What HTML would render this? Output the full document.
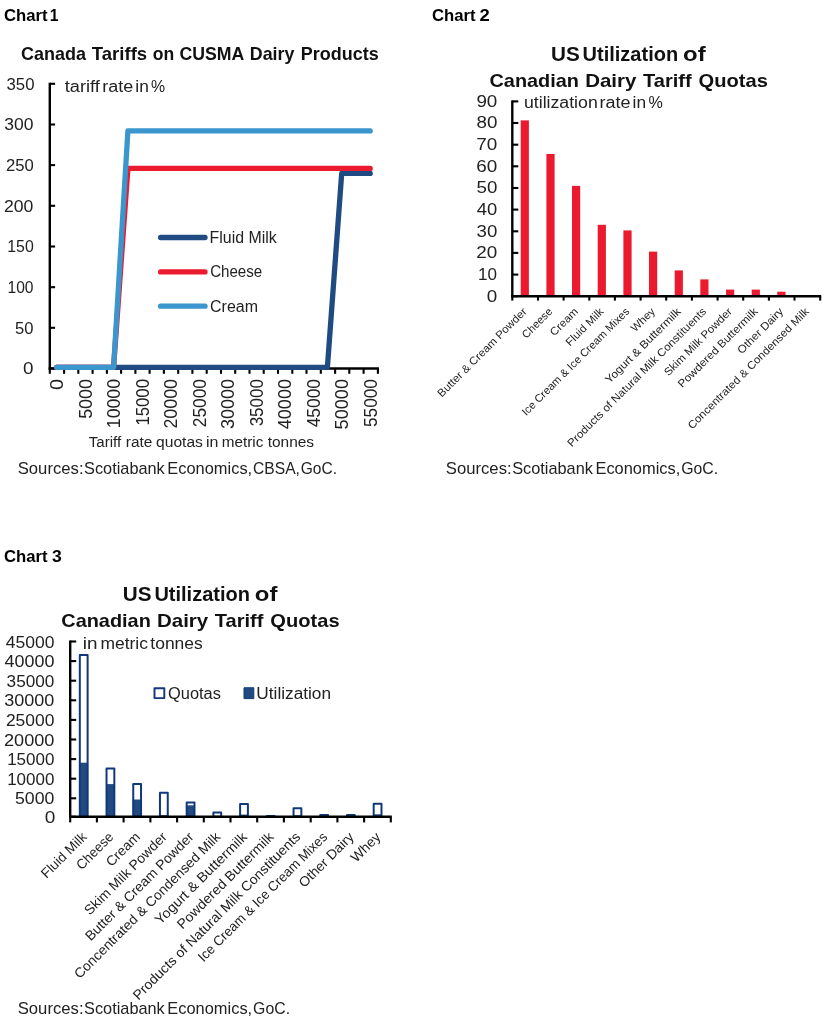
<!DOCTYPE html>
<html lang="en">
<head>
<meta charset="utf-8">
<title>Charts</title>
<style>
html,body{margin:0;padding:0;background:#fff;}
body{width:828px;height:1023px;overflow:hidden;font-family:"Liberation Sans",sans-serif;}
svg{display:block;font-family:"Liberation Sans",sans-serif;}
</style>
</head>
<body>
<svg width="828" height="1023" viewBox="0 0 828 1023">
<rect x="0" y="0" width="828" height="1023" fill="#fff"/>
<text y="20.90" font-size="17.2" font-weight="bold" fill="#000"><tspan x="3.91" textLength="43.59" lengthAdjust="spacingAndGlyphs">Chart</tspan> <tspan x="49.71" textLength="8.73" lengthAdjust="spacingAndGlyphs">1</tspan></text>
<text y="60.30" font-size="17.8" font-weight="bold" fill="#111"><tspan x="20.96" textLength="64.92" lengthAdjust="spacingAndGlyphs">Canada</tspan> <tspan x="91.89" textLength="55.27" lengthAdjust="spacingAndGlyphs">Tariffs</tspan> <tspan x="152.81" textLength="21.48" lengthAdjust="spacingAndGlyphs">on</tspan> <tspan x="179.38" textLength="64.18" lengthAdjust="spacingAndGlyphs">CUSMA</tspan> <tspan x="249.81" textLength="44.59" lengthAdjust="spacingAndGlyphs">Dairy</tspan> <tspan x="300.80" textLength="77.94" lengthAdjust="spacingAndGlyphs">Products</tspan></text>
<text x="33.44" y="374.2" font-size="16" text-anchor="end" textLength="10.47" lengthAdjust="spacingAndGlyphs" fill="#222">0</text>
<line x1="49.8" y1="368.5" x2="55.099999999999994" y2="368.5" stroke="#000" stroke-width="2.1"/>
<text x="33.55" y="333.5" font-size="16" text-anchor="end" textLength="18.41" lengthAdjust="spacingAndGlyphs" fill="#222">50</text>
<line x1="49.8" y1="327.8" x2="55.099999999999994" y2="327.8" stroke="#000" stroke-width="2.1"/>
<text x="33.51" y="292.9" font-size="16" text-anchor="end" textLength="26.00" lengthAdjust="spacingAndGlyphs" fill="#222">100</text>
<line x1="49.8" y1="287.2" x2="55.099999999999994" y2="287.2" stroke="#000" stroke-width="2.1"/>
<text x="33.72" y="252.2" font-size="16" text-anchor="end" textLength="26.43" lengthAdjust="spacingAndGlyphs" fill="#222">150</text>
<line x1="49.8" y1="246.5" x2="55.099999999999994" y2="246.5" stroke="#000" stroke-width="2.1"/>
<text x="33.39" y="211.5" font-size="16" text-anchor="end" textLength="29.37" lengthAdjust="spacingAndGlyphs" fill="#222">200</text>
<line x1="49.8" y1="205.8" x2="55.099999999999994" y2="205.8" stroke="#000" stroke-width="2.1"/>
<text x="33.75" y="170.8" font-size="16" text-anchor="end" textLength="27.79" lengthAdjust="spacingAndGlyphs" fill="#222">250</text>
<line x1="49.8" y1="165.1" x2="55.099999999999994" y2="165.1" stroke="#000" stroke-width="2.1"/>
<text x="33.38" y="130.2" font-size="16" text-anchor="end" textLength="29.15" lengthAdjust="spacingAndGlyphs" fill="#222">300</text>
<line x1="49.8" y1="124.5" x2="55.099999999999994" y2="124.5" stroke="#000" stroke-width="2.1"/>
<text x="34.45" y="89.5" font-size="16" text-anchor="end" textLength="27.89" lengthAdjust="spacingAndGlyphs" fill="#222">350</text>
<line x1="49.8" y1="83.8" x2="55.099999999999994" y2="83.8" stroke="#000" stroke-width="2.1"/>
<text y="91.50" font-size="16" fill="#222"><tspan x="64.82" textLength="35.05" lengthAdjust="spacingAndGlyphs">tariff</tspan> <tspan x="102.31" textLength="30.99" lengthAdjust="spacingAndGlyphs">rate</tspan> <tspan x="135.34" textLength="13.48" lengthAdjust="spacingAndGlyphs">in</tspan> <tspan x="151.03" textLength="14.13" lengthAdjust="spacingAndGlyphs">%</tspan></text>
<line x1="49.8" y1="82.8" x2="49.8" y2="369.5" stroke="#000" stroke-width="2.4"/>
<line x1="48.599999999999994" y1="368.5" x2="378.90000000000003" y2="368.5" stroke="#000" stroke-width="2.4"/>
<line x1="49.8" y1="368.5" x2="49.8" y2="373.8" stroke="#000" stroke-width="2.1"/>
<line x1="64.1" y1="368.5" x2="64.1" y2="373.8" stroke="#000" stroke-width="2.1"/>
<line x1="78.3" y1="368.5" x2="78.3" y2="373.8" stroke="#000" stroke-width="2.1"/>
<line x1="92.6" y1="368.5" x2="92.6" y2="373.8" stroke="#000" stroke-width="2.1"/>
<line x1="106.9" y1="368.5" x2="106.9" y2="373.8" stroke="#000" stroke-width="2.1"/>
<line x1="121.1" y1="368.5" x2="121.1" y2="373.8" stroke="#000" stroke-width="2.1"/>
<line x1="135.4" y1="368.5" x2="135.4" y2="373.8" stroke="#000" stroke-width="2.1"/>
<line x1="149.6" y1="368.5" x2="149.6" y2="373.8" stroke="#000" stroke-width="2.1"/>
<line x1="163.9" y1="368.5" x2="163.9" y2="373.8" stroke="#000" stroke-width="2.1"/>
<line x1="178.2" y1="368.5" x2="178.2" y2="373.8" stroke="#000" stroke-width="2.1"/>
<line x1="192.4" y1="368.5" x2="192.4" y2="373.8" stroke="#000" stroke-width="2.1"/>
<line x1="206.7" y1="368.5" x2="206.7" y2="373.8" stroke="#000" stroke-width="2.1"/>
<line x1="221.0" y1="368.5" x2="221.0" y2="373.8" stroke="#000" stroke-width="2.1"/>
<line x1="235.2" y1="368.5" x2="235.2" y2="373.8" stroke="#000" stroke-width="2.1"/>
<line x1="249.5" y1="368.5" x2="249.5" y2="373.8" stroke="#000" stroke-width="2.1"/>
<line x1="263.7" y1="368.5" x2="263.7" y2="373.8" stroke="#000" stroke-width="2.1"/>
<line x1="278.0" y1="368.5" x2="278.0" y2="373.8" stroke="#000" stroke-width="2.1"/>
<line x1="292.3" y1="368.5" x2="292.3" y2="373.8" stroke="#000" stroke-width="2.1"/>
<line x1="306.5" y1="368.5" x2="306.5" y2="373.8" stroke="#000" stroke-width="2.1"/>
<line x1="320.8" y1="368.5" x2="320.8" y2="373.8" stroke="#000" stroke-width="2.1"/>
<line x1="335.1" y1="368.5" x2="335.1" y2="373.8" stroke="#000" stroke-width="2.1"/>
<line x1="349.3" y1="368.5" x2="349.3" y2="373.8" stroke="#000" stroke-width="2.1"/>
<line x1="363.6" y1="368.5" x2="363.6" y2="373.8" stroke="#000" stroke-width="2.1"/>
<line x1="377.9" y1="368.5" x2="377.9" y2="373.8" stroke="#000" stroke-width="2.1"/>
<polyline points="56.6,367.3 327.4,367.3 341.7,173.4 370.2,173.4" fill="none" stroke="#1F4A82" stroke-width="5.3" stroke-linecap="round" stroke-linejoin="round"/>
<polyline points="56.6,367.3 113.6,367.3 127.9,168.4 370.2,168.4" fill="none" stroke="#EC1A2E" stroke-width="5.3" stroke-linecap="round" stroke-linejoin="round"/>
<polyline points="56.6,367.3 113.6,367.3 127.9,130.9 370.2,130.9" fill="none" stroke="#3B96CE" stroke-width="5.3" stroke-linecap="round" stroke-linejoin="round"/>
<text x="63.3" y="378.91" font-size="17.8" text-anchor="end" textLength="11.17" lengthAdjust="spacingAndGlyphs" transform="rotate(-90 63.3 378.91)" fill="#222">0</text>
<text x="91.8" y="379.0" font-size="17.8" text-anchor="end" textLength="39.82" lengthAdjust="spacingAndGlyphs" transform="rotate(-90 91.8 379.0)" fill="#222">5000</text>
<text x="120.3" y="379.01" font-size="17.8" text-anchor="end" textLength="49.14" lengthAdjust="spacingAndGlyphs" transform="rotate(-90 120.3 379.01)" fill="#222">10000</text>
<text x="148.9" y="379.05" font-size="17.8" text-anchor="end" textLength="46.53" lengthAdjust="spacingAndGlyphs" transform="rotate(-90 148.9 379.05)" fill="#222">15000</text>
<text x="177.4" y="379.0" font-size="17.8" text-anchor="end" textLength="49.60" lengthAdjust="spacingAndGlyphs" transform="rotate(-90 177.4 379.0)" fill="#222">20000</text>
<text x="205.9" y="379.02" font-size="17.8" text-anchor="end" textLength="48.15" lengthAdjust="spacingAndGlyphs" transform="rotate(-90 205.9 379.02)" fill="#222">25000</text>
<text x="234.4" y="379.0" font-size="17.8" text-anchor="end" textLength="50.09" lengthAdjust="spacingAndGlyphs" transform="rotate(-90 234.4 379.0)" fill="#222">30000</text>
<text x="263.0" y="379.03" font-size="17.8" text-anchor="end" textLength="47.31" lengthAdjust="spacingAndGlyphs" transform="rotate(-90 263.0 379.03)" fill="#222">35000</text>
<text x="291.5" y="378.99" font-size="17.8" text-anchor="end" textLength="50.22" lengthAdjust="spacingAndGlyphs" transform="rotate(-90 291.5 378.99)" fill="#222">40000</text>
<text x="320.0" y="379.02" font-size="17.8" text-anchor="end" textLength="48.28" lengthAdjust="spacingAndGlyphs" transform="rotate(-90 320.0 379.02)" fill="#222">45000</text>
<text x="348.5" y="378.99" font-size="17.8" text-anchor="end" textLength="50.44" lengthAdjust="spacingAndGlyphs" transform="rotate(-90 348.5 378.99)" fill="#222">50000</text>
<text x="377.1" y="379.03" font-size="17.8" text-anchor="end" textLength="47.97" lengthAdjust="spacingAndGlyphs" transform="rotate(-90 377.1 379.03)" fill="#222">55000</text>
<text y="446.50" font-size="14" fill="#222"><tspan x="88.76" textLength="32.32" lengthAdjust="spacingAndGlyphs">Tariff</tspan> <tspan x="125.78" textLength="26.50" lengthAdjust="spacingAndGlyphs">rate</tspan> <tspan x="156.05" textLength="46.82" lengthAdjust="spacingAndGlyphs">quotas</tspan> <tspan x="206.03" textLength="12.40" lengthAdjust="spacingAndGlyphs">in</tspan> <tspan x="221.78" textLength="41.62" lengthAdjust="spacingAndGlyphs">metric</tspan> <tspan x="267.67" textLength="46.39" lengthAdjust="spacingAndGlyphs">tonnes</tspan></text>
<text y="473.70" font-size="17" fill="#222"><tspan x="17.74" textLength="65.78" lengthAdjust="spacingAndGlyphs">Sources:</tspan> <tspan x="84.06" textLength="80.72" lengthAdjust="spacingAndGlyphs">Scotiabank</tspan> <tspan x="167.35" textLength="84.82" lengthAdjust="spacingAndGlyphs">Economics,</tspan> <tspan x="253.11" textLength="46.79" lengthAdjust="spacingAndGlyphs">CBSA,</tspan> <tspan x="300.72" textLength="36.30" lengthAdjust="spacingAndGlyphs">GoC.</tspan></text>
<line x1="160.6" y1="237.5" x2="205" y2="237.5" stroke="#1F4A82" stroke-width="5.3" stroke-linecap="round"/>
<text y="242.90" font-size="16" fill="#222"><tspan x="209.59" textLength="67.18" lengthAdjust="spacingAndGlyphs">Fluid Milk</tspan></text>
<line x1="160.6" y1="271.9" x2="205" y2="271.9" stroke="#EC1A2E" stroke-width="5.3" stroke-linecap="round"/>
<text y="277.30" font-size="16" fill="#222"><tspan x="210.13" textLength="52.14" lengthAdjust="spacingAndGlyphs">Cheese</tspan></text>
<line x1="160.6" y1="306.2" x2="205" y2="306.2" stroke="#3B96CE" stroke-width="5.3" stroke-linecap="round"/>
<text y="311.60" font-size="16" fill="#222"><tspan x="210.09" textLength="47.86" lengthAdjust="spacingAndGlyphs">Cream</tspan></text>
<text y="20.90" font-size="17.2" font-weight="bold" fill="#000"><tspan x="431.91" textLength="43.59" lengthAdjust="spacingAndGlyphs">Chart</tspan> <tspan x="479.56" textLength="10.28" lengthAdjust="spacingAndGlyphs">2</tspan></text>
<text y="61.40" font-size="20.5" font-weight="bold" fill="#111"><tspan x="550.96" textLength="28.75" lengthAdjust="spacingAndGlyphs">US</tspan> <tspan x="582.60" textLength="95.54" lengthAdjust="spacingAndGlyphs">Utilization</tspan> <tspan x="683.07" textLength="22.59" lengthAdjust="spacingAndGlyphs">of</tspan></text>
<text y="87.40" font-size="19" font-weight="bold" fill="#111"><tspan x="489.48" textLength="89.55" lengthAdjust="spacingAndGlyphs">Canadian</tspan> <tspan x="585.23" textLength="51.18" lengthAdjust="spacingAndGlyphs">Dairy</tspan> <tspan x="643.08" textLength="48.59" lengthAdjust="spacingAndGlyphs">Tariff</tspan> <tspan x="698.58" textLength="69.25" lengthAdjust="spacingAndGlyphs">Quotas</tspan></text>
<text x="497.34" y="301.6" font-size="16" text-anchor="end" textLength="10.47" lengthAdjust="spacingAndGlyphs" fill="#222">0</text>
<line x1="512.3" y1="296.2" x2="518.3" y2="296.2" stroke="#000" stroke-width="2.1"/>
<text x="496.87" y="280.0" font-size="16" text-anchor="end" textLength="18.96" lengthAdjust="spacingAndGlyphs" fill="#222">10</text>
<line x1="512.3" y1="274.6" x2="518.3" y2="274.6" stroke="#000" stroke-width="2.1"/>
<text x="497.34" y="258.3" font-size="16" text-anchor="end" textLength="20.99" lengthAdjust="spacingAndGlyphs" fill="#222">20</text>
<line x1="512.3" y1="252.9" x2="518.3" y2="252.9" stroke="#000" stroke-width="2.1"/>
<text x="497.33" y="236.7" font-size="16" text-anchor="end" textLength="20.74" lengthAdjust="spacingAndGlyphs" fill="#222">30</text>
<line x1="512.3" y1="231.3" x2="518.3" y2="231.3" stroke="#000" stroke-width="2.1"/>
<text x="497.32" y="215.0" font-size="16" text-anchor="end" textLength="20.44" lengthAdjust="spacingAndGlyphs" fill="#222">40</text>
<line x1="512.3" y1="209.6" x2="518.3" y2="209.6" stroke="#000" stroke-width="2.1"/>
<text x="497.33" y="193.4" font-size="16" text-anchor="end" textLength="20.78" lengthAdjust="spacingAndGlyphs" fill="#222">50</text>
<line x1="512.3" y1="188.0" x2="518.3" y2="188.0" stroke="#000" stroke-width="2.1"/>
<text x="497.34" y="171.7" font-size="16" text-anchor="end" textLength="21.00" lengthAdjust="spacingAndGlyphs" fill="#222">60</text>
<line x1="512.3" y1="166.3" x2="518.3" y2="166.3" stroke="#000" stroke-width="2.1"/>
<text x="497.34" y="150.1" font-size="16" text-anchor="end" textLength="21.01" lengthAdjust="spacingAndGlyphs" fill="#222">70</text>
<line x1="512.3" y1="144.7" x2="518.3" y2="144.7" stroke="#000" stroke-width="2.1"/>
<text x="497.33" y="128.4" font-size="16" text-anchor="end" textLength="20.85" lengthAdjust="spacingAndGlyphs" fill="#222">80</text>
<line x1="512.3" y1="123.0" x2="518.3" y2="123.0" stroke="#000" stroke-width="2.1"/>
<text x="497.33" y="106.8" font-size="16" text-anchor="end" textLength="20.92" lengthAdjust="spacingAndGlyphs" fill="#222">90</text>
<line x1="512.3" y1="101.4" x2="518.3" y2="101.4" stroke="#000" stroke-width="2.1"/>
<text y="107.60" font-size="16" fill="#222"><tspan x="523.95" textLength="73.80" lengthAdjust="spacingAndGlyphs">utilization</tspan> <tspan x="599.41" textLength="30.99" lengthAdjust="spacingAndGlyphs">rate</tspan> <tspan x="632.64" textLength="13.48" lengthAdjust="spacingAndGlyphs">in</tspan> <tspan x="648.42" textLength="14.35" lengthAdjust="spacingAndGlyphs">%</tspan></text>
<rect x="520.7" y="120.4" width="8.2" height="175.8" fill="#EC1A2E"/>
<text x="527.4" y="312.2" font-size="11" text-anchor="end" textLength="121.00" lengthAdjust="spacingAndGlyphs" transform="rotate(-45 527.4 312.2)" fill="#222">Butter &amp; Cream Powder</text>
<rect x="546.4" y="154.0" width="8.2" height="142.2" fill="#EC1A2E"/>
<text x="553.1" y="312.2" font-size="11" text-anchor="end" textLength="37.90" lengthAdjust="spacingAndGlyphs" transform="rotate(-45 553.1 312.2)" fill="#222">Cheese</text>
<rect x="572.0" y="185.9" width="8.2" height="110.3" fill="#EC1A2E"/>
<text x="578.7" y="312.2" font-size="11" text-anchor="end" textLength="34.40" lengthAdjust="spacingAndGlyphs" transform="rotate(-45 578.7 312.2)" fill="#222">Cream</text>
<rect x="597.7" y="224.8" width="8.2" height="71.4" fill="#EC1A2E"/>
<text x="604.4" y="312.2" font-size="11" text-anchor="end" textLength="48.70" lengthAdjust="spacingAndGlyphs" transform="rotate(-45 604.4 312.2)" fill="#222">Fluid Milk</text>
<rect x="623.4" y="230.4" width="8.2" height="65.8" fill="#EC1A2E"/>
<text x="630.1" y="312.2" font-size="11" text-anchor="end" textLength="147.00" lengthAdjust="spacingAndGlyphs" transform="rotate(-45 630.1 312.2)" fill="#222">Ice Cream &amp; Ice Cream Mixes</text>
<rect x="649.0" y="251.6" width="8.2" height="44.6" fill="#EC1A2E"/>
<text x="655.7" y="312.2" font-size="11" text-anchor="end" textLength="28.80" lengthAdjust="spacingAndGlyphs" transform="rotate(-45 655.7 312.2)" fill="#222">Whey</text>
<rect x="674.7" y="270.4" width="8.2" height="25.8" fill="#EC1A2E"/>
<text x="681.4" y="312.2" font-size="11" text-anchor="end" textLength="101.60" lengthAdjust="spacingAndGlyphs" transform="rotate(-45 681.4 312.2)" fill="#222">Yogurt &amp; Buttermilk</text>
<rect x="700.3" y="279.4" width="8.2" height="16.8" fill="#EC1A2E"/>
<text x="707.0" y="312.2" font-size="11" text-anchor="end" textLength="191.30" lengthAdjust="spacingAndGlyphs" transform="rotate(-45 707.0 312.2)" fill="#222">Products of Natural Milk Constituents</text>
<rect x="726.0" y="289.6" width="8.2" height="6.6" fill="#EC1A2E"/>
<text x="732.7" y="312.2" font-size="11" text-anchor="end" textLength="90.90" lengthAdjust="spacingAndGlyphs" transform="rotate(-45 732.7 312.2)" fill="#222">Skim Milk Powder</text>
<rect x="751.7" y="289.6" width="8.2" height="6.6" fill="#EC1A2E"/>
<text x="758.4" y="312.2" font-size="11" text-anchor="end" textLength="107.50" lengthAdjust="spacingAndGlyphs" transform="rotate(-45 758.4 312.2)" fill="#222">Powdered Buttermilk</text>
<rect x="777.3" y="291.7" width="8.2" height="4.5" fill="#EC1A2E"/>
<text x="784.0" y="312.2" font-size="11" text-anchor="end" textLength="59.70" lengthAdjust="spacingAndGlyphs" transform="rotate(-45 784.0 312.2)" fill="#222">Other Dairy</text>
<text x="809.7" y="312.2" font-size="11" text-anchor="end" textLength="166.20" lengthAdjust="spacingAndGlyphs" transform="rotate(-45 809.7 312.2)" fill="#222">Concentrated &amp; Condensed Milk</text>
<line x1="512.3" y1="100.4" x2="512.3" y2="297.2" stroke="#000" stroke-width="2.4"/>
<line x1="511.09999999999997" y1="296.2" x2="821.2" y2="296.2" stroke="#000" stroke-width="2.4"/>
<line x1="512.3" y1="296.2" x2="512.3" y2="300.59999999999997" stroke="#000" stroke-width="2.1"/>
<line x1="538.0" y1="296.2" x2="538.0" y2="300.59999999999997" stroke="#000" stroke-width="2.1"/>
<line x1="563.6" y1="296.2" x2="563.6" y2="300.59999999999997" stroke="#000" stroke-width="2.1"/>
<line x1="589.3" y1="296.2" x2="589.3" y2="300.59999999999997" stroke="#000" stroke-width="2.1"/>
<line x1="614.9" y1="296.2" x2="614.9" y2="300.59999999999997" stroke="#000" stroke-width="2.1"/>
<line x1="640.6" y1="296.2" x2="640.6" y2="300.59999999999997" stroke="#000" stroke-width="2.1"/>
<line x1="666.2" y1="296.2" x2="666.2" y2="300.59999999999997" stroke="#000" stroke-width="2.1"/>
<line x1="691.9" y1="296.2" x2="691.9" y2="300.59999999999997" stroke="#000" stroke-width="2.1"/>
<line x1="717.6" y1="296.2" x2="717.6" y2="300.59999999999997" stroke="#000" stroke-width="2.1"/>
<line x1="743.2" y1="296.2" x2="743.2" y2="300.59999999999997" stroke="#000" stroke-width="2.1"/>
<line x1="768.9" y1="296.2" x2="768.9" y2="300.59999999999997" stroke="#000" stroke-width="2.1"/>
<line x1="794.5" y1="296.2" x2="794.5" y2="300.59999999999997" stroke="#000" stroke-width="2.1"/>
<line x1="820.2" y1="296.2" x2="820.2" y2="300.59999999999997" stroke="#000" stroke-width="2.1"/>
<text y="473.70" font-size="17" fill="#222"><tspan x="445.84" textLength="65.78" lengthAdjust="spacingAndGlyphs">Sources:</tspan> <tspan x="512.16" textLength="80.72" lengthAdjust="spacingAndGlyphs">Scotiabank</tspan> <tspan x="595.45" textLength="84.82" lengthAdjust="spacingAndGlyphs">Economics,</tspan> <tspan x="681.20" textLength="36.94" lengthAdjust="spacingAndGlyphs">GoC.</tspan></text>
<text y="561.50" font-size="17.2" font-weight="bold" fill="#000"><tspan x="3.91" textLength="43.59" lengthAdjust="spacingAndGlyphs">Chart</tspan> <tspan x="52.00" textLength="9.73" lengthAdjust="spacingAndGlyphs">3</tspan></text>
<text y="601.40" font-size="20.5" font-weight="bold" fill="#111"><tspan x="122.76" textLength="28.75" lengthAdjust="spacingAndGlyphs">US</tspan> <tspan x="154.40" textLength="95.54" lengthAdjust="spacingAndGlyphs">Utilization</tspan> <tspan x="254.87" textLength="22.59" lengthAdjust="spacingAndGlyphs">of</tspan></text>
<text y="627.40" font-size="19" font-weight="bold" fill="#111"><tspan x="61.28" textLength="89.55" lengthAdjust="spacingAndGlyphs">Canadian</tspan> <tspan x="157.03" textLength="51.18" lengthAdjust="spacingAndGlyphs">Dairy</tspan> <tspan x="214.88" textLength="48.59" lengthAdjust="spacingAndGlyphs">Tariff</tspan> <tspan x="270.38" textLength="69.25" lengthAdjust="spacingAndGlyphs">Quotas</tspan></text>
<text x="55.24" y="822.8" font-size="16.7" text-anchor="end" textLength="10.59" lengthAdjust="spacingAndGlyphs" fill="#222">0</text>
<line x1="70.2" y1="816.8" x2="76.2" y2="816.8" stroke="#000" stroke-width="2.1"/>
<text x="54.39" y="804.3" font-size="16.7" text-anchor="end" textLength="39.40" lengthAdjust="spacingAndGlyphs" fill="#222">5000</text>
<line x1="70.2" y1="798.3" x2="76.2" y2="798.3" stroke="#000" stroke-width="2.1"/>
<text x="54.36" y="784.7" font-size="16.7" text-anchor="end" textLength="47.16" lengthAdjust="spacingAndGlyphs" fill="#222">10000</text>
<line x1="70.2" y1="778.7" x2="76.2" y2="778.7" stroke="#000" stroke-width="2.1"/>
<text x="54.36" y="765.1" font-size="16.7" text-anchor="end" textLength="47.16" lengthAdjust="spacingAndGlyphs" fill="#222">15000</text>
<line x1="70.2" y1="759.1" x2="76.2" y2="759.1" stroke="#000" stroke-width="2.1"/>
<text x="54.41" y="745.5" font-size="16.7" text-anchor="end" textLength="50.42" lengthAdjust="spacingAndGlyphs" fill="#222">20000</text>
<line x1="70.2" y1="739.5" x2="76.2" y2="739.5" stroke="#000" stroke-width="2.1"/>
<text x="54.38" y="725.9" font-size="16.7" text-anchor="end" textLength="48.46" lengthAdjust="spacingAndGlyphs" fill="#222">25000</text>
<line x1="70.2" y1="719.9" x2="76.2" y2="719.9" stroke="#000" stroke-width="2.1"/>
<text x="54.41" y="706.3" font-size="16.7" text-anchor="end" textLength="50.19" lengthAdjust="spacingAndGlyphs" fill="#222">30000</text>
<line x1="70.2" y1="700.3" x2="76.2" y2="700.3" stroke="#000" stroke-width="2.1"/>
<text x="54.37" y="686.7" font-size="16.7" text-anchor="end" textLength="47.73" lengthAdjust="spacingAndGlyphs" fill="#222">35000</text>
<line x1="70.2" y1="680.7" x2="76.2" y2="680.7" stroke="#000" stroke-width="2.1"/>
<text x="54.4" y="667.1" font-size="16.7" text-anchor="end" textLength="49.91" lengthAdjust="spacingAndGlyphs" fill="#222">40000</text>
<line x1="70.2" y1="661.1" x2="76.2" y2="661.1" stroke="#000" stroke-width="2.1"/>
<text x="54.38" y="647.5" font-size="16.7" text-anchor="end" textLength="48.69" lengthAdjust="spacingAndGlyphs" fill="#222">45000</text>
<line x1="70.2" y1="641.5" x2="76.2" y2="641.5" stroke="#000" stroke-width="2.1"/>
<text y="649.00" font-size="16" fill="#222"><tspan x="82.84" textLength="14.69" lengthAdjust="spacingAndGlyphs">in</tspan> <tspan x="100.44" textLength="47.42" lengthAdjust="spacingAndGlyphs">metric</tspan> <tspan x="150.34" textLength="52.39" lengthAdjust="spacingAndGlyphs">tonnes</tspan></text>
<rect x="79.31" y="762.70" width="8.8" height="54.10" fill="#214B80"/>
<rect x="79.81" y="655.00" width="7.80" height="161.80" fill="none" stroke="#11397A" stroke-width="2.0" stroke-linejoin="round"/>
<text x="87.6" y="837.8" font-size="13.7" text-anchor="end" textLength="58.10" lengthAdjust="spacingAndGlyphs" transform="rotate(-45 87.6 837.8)" fill="#222">Fluid Milk</text>
<rect x="106.03" y="784.10" width="8.8" height="32.70" fill="#214B80"/>
<rect x="106.53" y="768.50" width="7.80" height="48.30" fill="none" stroke="#11397A" stroke-width="2.0" stroke-linejoin="round"/>
<text x="114.3" y="837.8" font-size="13.7" text-anchor="end" textLength="46.20" lengthAdjust="spacingAndGlyphs" transform="rotate(-45 114.3 837.8)" fill="#222">Cheese</text>
<rect x="132.74" y="799.50" width="8.8" height="17.30" fill="#214B80"/>
<rect x="133.24" y="783.90" width="7.80" height="32.90" fill="none" stroke="#11397A" stroke-width="2.0" stroke-linejoin="round"/>
<text x="141.0" y="837.8" font-size="13.7" text-anchor="end" textLength="41.80" lengthAdjust="spacingAndGlyphs" transform="rotate(-45 141.0 837.8)" fill="#222">Cream</text>
<rect x="159.46" y="815.20" width="8.8" height="1.60" fill="#214B80"/>
<rect x="159.96" y="792.80" width="7.80" height="24.00" fill="none" stroke="#11397A" stroke-width="2.0" stroke-linejoin="round"/>
<text x="167.8" y="837.8" font-size="13.7" text-anchor="end" textLength="110.30" lengthAdjust="spacingAndGlyphs" transform="rotate(-45 167.8 837.8)" fill="#222">Skim Milk Powder</text>
<rect x="186.18" y="805.30" width="8.8" height="11.50" fill="#214B80"/>
<rect x="186.68" y="802.50" width="7.80" height="14.30" fill="none" stroke="#11397A" stroke-width="2.0" stroke-linejoin="round"/>
<text x="194.5" y="837.8" font-size="13.7" text-anchor="end" textLength="146.70" lengthAdjust="spacingAndGlyphs" transform="rotate(-45 194.5 837.8)" fill="#222">Butter &amp; Cream Powder</text>
<rect x="213.39" y="812.50" width="7.80" height="4.30" fill="none" stroke="#11397A" stroke-width="2.0" stroke-linejoin="round"/>
<text x="221.2" y="837.8" font-size="13.7" text-anchor="end" textLength="200.00" lengthAdjust="spacingAndGlyphs" transform="rotate(-45 221.2 837.8)" fill="#222">Concentrated &amp; Condensed Milk</text>
<rect x="239.61" y="814.60" width="8.8" height="2.20" fill="#214B80"/>
<rect x="240.11" y="803.90" width="7.80" height="12.90" fill="none" stroke="#11397A" stroke-width="2.0" stroke-linejoin="round"/>
<text x="247.9" y="837.8" font-size="13.7" text-anchor="end" textLength="123.80" lengthAdjust="spacingAndGlyphs" transform="rotate(-45 247.9 837.8)" fill="#222">Yogurt &amp; Buttermilk</text>
<rect x="266.82" y="816.00" width="7.80" height="0.80" fill="none" stroke="#11397A" stroke-width="2.0" stroke-linejoin="round"/>
<text x="274.6" y="837.8" font-size="13.7" text-anchor="end" textLength="130.10" lengthAdjust="spacingAndGlyphs" transform="rotate(-45 274.6 837.8)" fill="#222">Powdered Buttermilk</text>
<rect x="293.04" y="815.20" width="8.8" height="1.60" fill="#214B80"/>
<rect x="293.54" y="808.30" width="7.80" height="8.50" fill="none" stroke="#11397A" stroke-width="2.0" stroke-linejoin="round"/>
<text x="301.3" y="837.8" font-size="13.7" text-anchor="end" textLength="230.30" lengthAdjust="spacingAndGlyphs" transform="rotate(-45 301.3 837.8)" fill="#222">Products of Natural Milk Constituents</text>
<rect x="319.76" y="815.00" width="8.8" height="1.80" fill="#214B80"/>
<rect x="320.26" y="815.10" width="7.80" height="1.70" fill="none" stroke="#11397A" stroke-width="2.0" stroke-linejoin="round"/>
<text x="328.1" y="837.8" font-size="13.7" text-anchor="end" textLength="176.20" lengthAdjust="spacingAndGlyphs" transform="rotate(-45 328.1 837.8)" fill="#222">Ice Cream &amp; Ice Cream Mixes</text>
<rect x="346.48" y="815.00" width="8.8" height="1.80" fill="#214B80"/>
<rect x="346.98" y="815.10" width="7.80" height="1.70" fill="none" stroke="#11397A" stroke-width="2.0" stroke-linejoin="round"/>
<text x="354.8" y="837.8" font-size="13.7" text-anchor="end" textLength="71.40" lengthAdjust="spacingAndGlyphs" transform="rotate(-45 354.8 837.8)" fill="#222">Other Dairy</text>
<rect x="373.19" y="814.30" width="8.8" height="2.50" fill="#214B80"/>
<rect x="373.69" y="803.85" width="7.80" height="12.95" fill="none" stroke="#11397A" stroke-width="2.0" stroke-linejoin="round"/>
<text x="381.5" y="837.8" font-size="13.7" text-anchor="end" textLength="35.70" lengthAdjust="spacingAndGlyphs" transform="rotate(-45 381.5 837.8)" fill="#222">Whey</text>
<line x1="70.2" y1="640.5" x2="70.2" y2="817.8" stroke="#000" stroke-width="2.4"/>
<line x1="69.0" y1="816.8" x2="391.8" y2="816.8" stroke="#000" stroke-width="2.4"/>
<line x1="70.2" y1="816.8" x2="70.2" y2="822.4" stroke="#000" stroke-width="2.1"/>
<line x1="96.9" y1="816.8" x2="96.9" y2="822.4" stroke="#000" stroke-width="2.1"/>
<line x1="123.6" y1="816.8" x2="123.6" y2="822.4" stroke="#000" stroke-width="2.1"/>
<line x1="150.4" y1="816.8" x2="150.4" y2="822.4" stroke="#000" stroke-width="2.1"/>
<line x1="177.1" y1="816.8" x2="177.1" y2="822.4" stroke="#000" stroke-width="2.1"/>
<line x1="203.8" y1="816.8" x2="203.8" y2="822.4" stroke="#000" stroke-width="2.1"/>
<line x1="230.5" y1="816.8" x2="230.5" y2="822.4" stroke="#000" stroke-width="2.1"/>
<line x1="257.2" y1="816.8" x2="257.2" y2="822.4" stroke="#000" stroke-width="2.1"/>
<line x1="283.9" y1="816.8" x2="283.9" y2="822.4" stroke="#000" stroke-width="2.1"/>
<line x1="310.7" y1="816.8" x2="310.7" y2="822.4" stroke="#000" stroke-width="2.1"/>
<line x1="337.4" y1="816.8" x2="337.4" y2="822.4" stroke="#000" stroke-width="2.1"/>
<line x1="364.1" y1="816.8" x2="364.1" y2="822.4" stroke="#000" stroke-width="2.1"/>
<line x1="390.8" y1="816.8" x2="390.8" y2="822.4" stroke="#000" stroke-width="2.1"/>
<rect x="154.5" y="688.2" width="9.8" height="9.9" fill="#fff" stroke="#11397A" stroke-width="1.95" stroke-linejoin="round"/>
<text y="698.70" font-size="16" fill="#222"><tspan x="168.02" textLength="52.87" lengthAdjust="spacingAndGlyphs">Quotas</tspan></text>
<rect x="244.0" y="687.75" width="9.8" height="10.85" fill="#214B80" stroke="#11397A" stroke-width="1" stroke-linejoin="round"/>
<text y="698.70" font-size="16" fill="#222"><tspan x="256.37" textLength="74.65" lengthAdjust="spacingAndGlyphs">Utilization</tspan></text>
<text y="1013.70" font-size="17" fill="#222"><tspan x="17.74" textLength="65.78" lengthAdjust="spacingAndGlyphs">Sources:</tspan> <tspan x="84.06" textLength="80.72" lengthAdjust="spacingAndGlyphs">Scotiabank</tspan> <tspan x="167.35" textLength="84.82" lengthAdjust="spacingAndGlyphs">Economics,</tspan> <tspan x="253.10" textLength="36.94" lengthAdjust="spacingAndGlyphs">GoC.</tspan></text>
</svg>
</body>
</html>
